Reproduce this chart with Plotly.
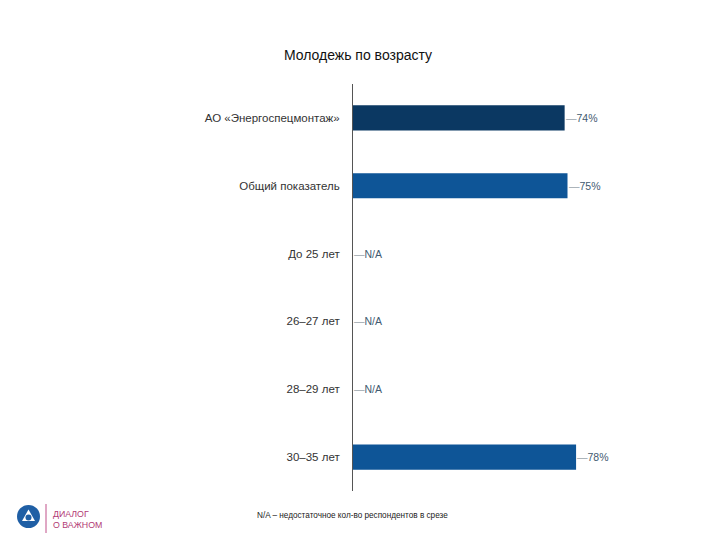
import plotly.graph_objects as go

categories = ["АО «Энергоспецмонтаж»", "Общий показатель", "До 25 лет", "26–27 лет", "28–29 лет", "30–35 лет"]
values = [74, 75, None, None, None, 78]
labels = ["74%", "75%", "N/A", "N/A", "N/A", "78%"]
bar_colors = ["#0b3862", "#0e5597", "#0e5597", "#0e5597", "#0e5597", "#0e5597"]

W, H = 720, 540
L, R, T, B = 353, 81, 84, 49
FONT = "Liberation Sans, Arial, sans-serif"


def px(x):
    return (x - L) / (W - L - R)


def py(y):
    return (H - B - y) / (H - T - B)


fig = go.Figure()
fig.add_trace(go.Bar(
    y=categories,
    x=[v if v is not None else 0 for v in values],
    orientation="h",
    marker=dict(color=bar_colors, line=dict(width=0)),
    width=0.37,
    hoverinfo="skip",
))

for cat, v, lab in zip(categories, values, labels):
    fig.add_annotation(
        x=v if v is not None else 0, y=cat, xref="x", yref="y",
        text="<span style='color:#9aa3ab'>—</span><span style='color:#3f5a70'>" + lab + "</span>",
        showarrow=False, xanchor="left", yanchor="middle", xshift=-1,
        font=dict(family=FONT, size=10.5),
    )

fig.update_layout(
    width=W, height=H,
    margin=dict(l=L, r=R, t=T, b=B),
    paper_bgcolor="white", plot_bgcolor="white",
    showlegend=False,
    title=dict(text="Молодежь по возрасту", x=358 / W, xanchor="center", y=1 - 55 / H, yanchor="middle",
               font=dict(family=FONT, size=14, color="#111111")),
    font=dict(family=FONT),
)
fig.update_xaxes(range=[0, 100], visible=False, fixedrange=True)
fig.update_yaxes(
    categoryorder="array", categoryarray=categories, autorange="reversed",
    showline=True, linecolor="#555555", linewidth=1, showgrid=False, zeroline=False,
    ticks="", ticklabelstandoff=10,
    tickfont=dict(family=FONT, size=11.5, color="#333333"),
)

# footnote
fig.add_annotation(
    x=px(255), y=py(515), xref="paper", yref="paper",
    text="N/A – недостаточное кол-во респондентов в срезе",
    showarrow=False, xanchor="left", yanchor="middle",
    font=dict(family=FONT, size=8.2, color="#222222"),
)

# logo
cx, cy, r = 28.5, 516.5, 11.5
fig.add_shape(type="circle", xref="paper", yref="paper",
              x0=px(cx - r), x1=px(cx + r), y0=py(cy + r), y1=py(cy - r),
              line=dict(width=0), fillcolor="#1f5fa5", layer="above")
tri = [(cx, cy - 7), (cx + 6.5, cy + 4.5), (cx - 6.5, cy + 4.5)]
path = "M {} {} L {} {} L {} {} Z".format(*[v for p in tri for v in (px(p[0]), py(p[1]))])
fig.add_shape(type="path", xref="paper", yref="paper", path=path,
              line=dict(width=0), fillcolor="white", layer="above")
r2 = 3
fig.add_shape(type="circle", xref="paper", yref="paper",
              x0=px(cx - r2), x1=px(cx + r2), y0=py(cy + 1 + r2), y1=py(cy + 1 - r2),
              line=dict(width=0), fillcolor="#1f5fa5", layer="above")
fig.add_shape(type="line", xref="paper", yref="paper",
              x0=px(46), x1=px(46), y0=py(504), y1=py(533),
              line=dict(color="#c0508a", width=1), layer="above")
fig.add_annotation(
    x=px(51), y=py(519.5), xref="paper", yref="paper",
    text="ДИАЛОГ<br>О ВАЖНОМ", align="left",
    showarrow=False, xanchor="left", yanchor="middle",
    font=dict(family=FONT, size=8.8, color="#b23a74"),
)

fig.write_html("out.html", config={"displayModeBar": False},
               post_script="document.body.style.margin='0';")
